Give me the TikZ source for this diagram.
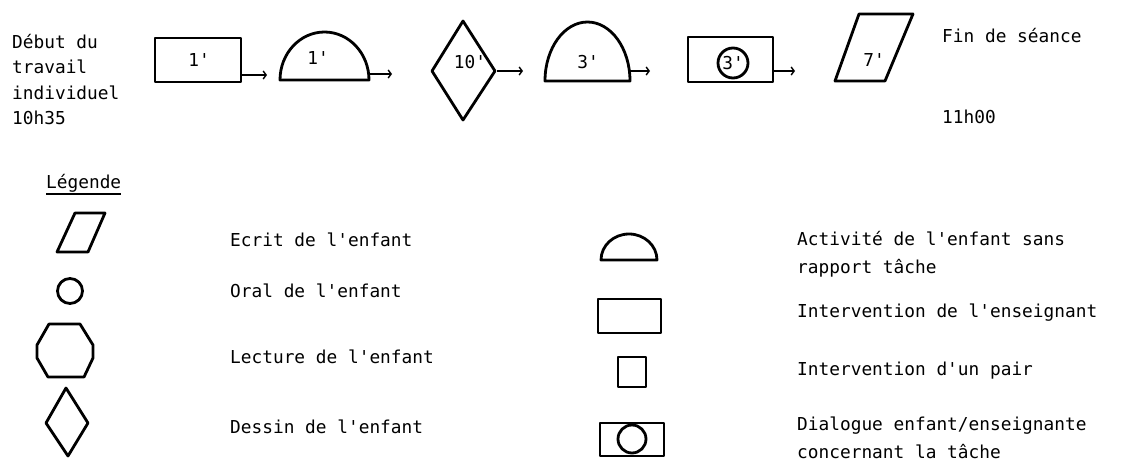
\documentclass[tikz,border=0pt]{standalone}
\usepackage{fontspec}
\setmonofont{DejaVu Sans Mono}
\usetikzlibrary{arrows.meta}
\begin{document}
\begin{tikzpicture}[x=1pt,y=-1pt,
  shp/.style={line width=2.8pt, line join=round},
  conn/.style={line width=1.4pt, -{Straight Barb[length=3pt,width=8pt]}},
  txt/.style={anchor=base west, inner sep=0pt, font=\ttfamily\fontsize{17.8}{20}\selectfont},
  lbl/.style={inner sep=0pt, font=\ttfamily\fontsize{17.8}{20}\selectfont}]
\useasboundingbox (0,0) rectangle (1141,461);

% ---- top row: left text
\node[txt] (d1) at (12,48) {Début du};
\node[txt] (d2) at (12,73) {travail};
\node[txt] (d3) at (12,99) {individuel};
\node[txt] (d4) at (12,124) {10h35};

% ---- step 1: rectangle
\draw[shp] (155,38) rectangle (241,82);
\node[lbl] (l1) at (199,60) {1'};
\coordinate (a1s) at (241,75);
\coordinate (a1e) at (267,75);
\draw[conn] (a1s) -- (a1e);

% ---- step 2: half ellipse
\draw[shp] (280,80) arc[start angle=180, end angle=0, x radius=44.5pt, y radius=48pt] -- cycle;
\node[lbl] (l2) at (318,58) {1'};
\coordinate (a2s) at (369,74);
\coordinate (a2e) at (392,74);
\draw[conn] (a2s) -- (a2e);

% ---- step 3: diamond
\draw[shp] (463,21) -- (495,71) -- (463,120) -- (432,71) -- cycle;
\node[lbl] (l3) at (470,62) {10'};
\coordinate (a3s) at (497,71);
\coordinate (a3e) at (523,71);
\draw[conn] (a3s) -- (a3e);

% ---- step 4: half ellipse
\draw[shp] (545,81) arc[start angle=180, end angle=0, x radius=42.5pt, y radius=59pt] -- cycle;
\node[lbl] (l4) at (588,62) {3'};
\coordinate (a4s) at (629,71);
\coordinate (a4e) at (650,71);
\draw[conn] (a4s) -- (a4e);

% ---- step 5: rectangle with circle
\draw[shp] (688,37) rectangle (773,82);
\draw[shp] (733,63) circle[radius=15pt];
\node[lbl] (l5) at (733,63) {3'};
\coordinate (a5s) at (773,71);
\coordinate (a5e) at (795,71);
\draw[conn] (a5s) -- (a5e);

% ---- step 6: parallelogram
\draw[shp] (859,14) -- (913,14) -- (885,81) -- (835,81) -- cycle;
\node[lbl] (l6) at (874,60) {7'};

% ---- right texts
\node[txt] (f1) at (942,42) {Fin de séance};
\node[txt] (f2) at (942,123) {11h00};

% ---- legend title
\node[txt] (leg) at (46,188) {Légende};
\draw[line width=1.2pt] ([yshift=-6pt]leg.base west) -- ([yshift=-6pt]leg.base east);

% ---- legend left column
\draw[shp] (75,213) -- (105,213) -- (88,252) -- (57,252) -- cycle;
\node[txt] (e1) at (230,246) {Ecrit de l'enfant};

\draw[shp] (70,291) circle[radius=12.5pt];
\node[txt] (e2) at (230,297) {Oral de l'enfant};

\draw[shp] (49,324) -- (80,324) -- (93,345) -- (93,358) -- (84,377) -- (48,377) -- (37,358) -- (37,345) -- cycle;
\node[txt] (e3) at (230,363) {Lecture de l'enfant};

\draw[shp] (66,388) -- (88,423) -- (68,456) -- (46,423) -- cycle;
\node[txt] (e4) at (230,433) {Dessin de l'enfant};

% ---- legend right column
\draw[shp] (601,260) arc[start angle=180, end angle=0, x radius=28pt, y radius=26pt] -- cycle;
\node[txt] (g1) at (797,245) {Activité de l'enfant sans};
\node[txt] (g1b) at (797,273) {rapport tâche};

\draw[shp] (598,299) rectangle (661,333);
\node[txt] (g2) at (797,317) {Intervention de l'enseignant};

\draw[shp] (618,357) rectangle (646,387);
\node[txt] (g3) at (797,375) {Intervention d'un pair};

\draw[shp] (600,423) rectangle (664,456);
\draw[shp] (632,439) circle[radius=14pt];
\node[txt] (g4) at (797,430) {Dialogue enfant/enseignante};
\node[txt] (g4b) at (797,458) {concernant la tâche};
\end{tikzpicture}
\end{document}
